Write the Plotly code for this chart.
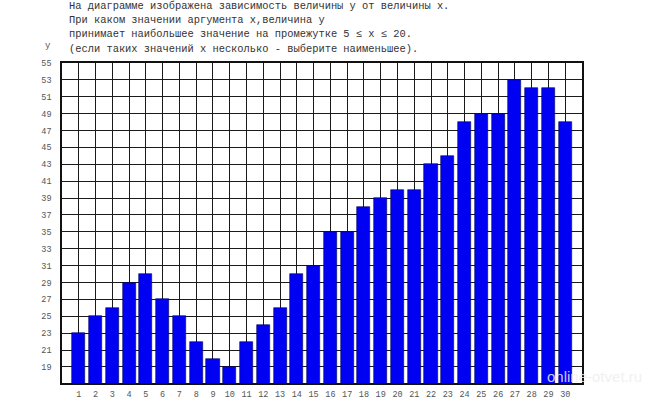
import plotly.graph_objects as go

# data
x_vals = list(range(1, 31))
y_vals = [23, 25, 26, 29, 30, 27, 25, 22, 20, 19,
          22, 24, 26, 30, 31, 35, 35, 38, 39, 40,
          40, 43, 44, 48, 49, 49, 53, 52, 52, 48]
y_ticks = list(range(19, 56, 2))

question_lines = [
    "На диаграмме изображена зависимость величины y от величины x.",
    "При каком значении аргумента x,величина y",
    "принимает наибольшее значение на промежутке 5 ≤ x ≤ 20.",
    "(если таких значений x несколько - выберите наименьшее).",
]

W, H = 649, 400
left, right, top, bottom = 62, 67, 63, 17
plot_h = H - top - bottom
plot_w = W - left - right

mono = "Liberation Mono, Courier New, monospace"

fig = go.Figure()
fig.add_trace(go.Bar(
    x=x_vals, y=y_vals, width=0.78,
    marker=dict(color="#0000f2", line=dict(color="#00005a", width=0.6)),
    base=0,
))

# question text above the plot
line_y = [6, 20, 34, 49]
for txt, py in zip(question_lines, line_y):
    fig.add_annotation(
        text=txt, xref="paper", yref="paper",
        x=(67 - left) / plot_w, y=1 + (top - py) / plot_h,
        xanchor="left", yanchor="middle", showarrow=False,
        font=dict(family=mono, size=10.4, color="#333333"),
    )

fig.add_annotation(
    text="y", xref="paper", yref="paper",
    x=(48 - left) / plot_w, y=1 + (top - 46) / plot_h,
    xanchor="center", yanchor="middle", showarrow=False,
    font=dict(family=mono, size=9, color="#555555"),
)

# watermark, kept just above the x tick labels
fig.add_annotation(
    text="online-otvet.ru", xref="paper", yref="paper",
    x=(644 - left) / plot_w, y=7 / plot_h, xanchor="right", yanchor="middle",
    showarrow=False,
    font=dict(family="Liberation Sans, Arial", size=15, color="rgba(238,238,238,0.85)"),
)

fig.update_layout(
    width=W, height=H,
    margin=dict(l=left, r=right, t=top, b=bottom),
    paper_bgcolor="white", plot_bgcolor="white",
    showlegend=False, bargap=0,
    xaxis=dict(
        range=[0, 31], tickvals=x_vals, ticktext=[str(v) for v in x_vals],
        showgrid=True, gridcolor="#1a1a1a", gridwidth=1.4,
        showline=True, linecolor="#111111", linewidth=1.6, mirror=True,
        ticks="outside", ticklen=2, tickcolor="rgba(0,0,0,0)",
        tickfont=dict(family=mono, size=8.5, color="#555555"),
        zeroline=False, automargin=False,
    ),
    yaxis=dict(
        range=[17.1, 55], tickvals=y_ticks,
        showgrid=True, gridcolor="#1a1a1a", gridwidth=1.4,
        showline=True, linecolor="#111111", linewidth=1.6, mirror=True,
        ticks="outside", ticklen=7, tickcolor="rgba(0,0,0,0)",
        tickfont=dict(family=mono, size=8.5, color="#555555"),
        zeroline=False, automargin=False,
    ),
)

# the default page has an 8px body margin; drop it so the chart fills the window
fig.write_html("out.html", config={"displayModeBar": False},
               post_script="document.body.style.margin='0';document.body.style.overflow='hidden';")
